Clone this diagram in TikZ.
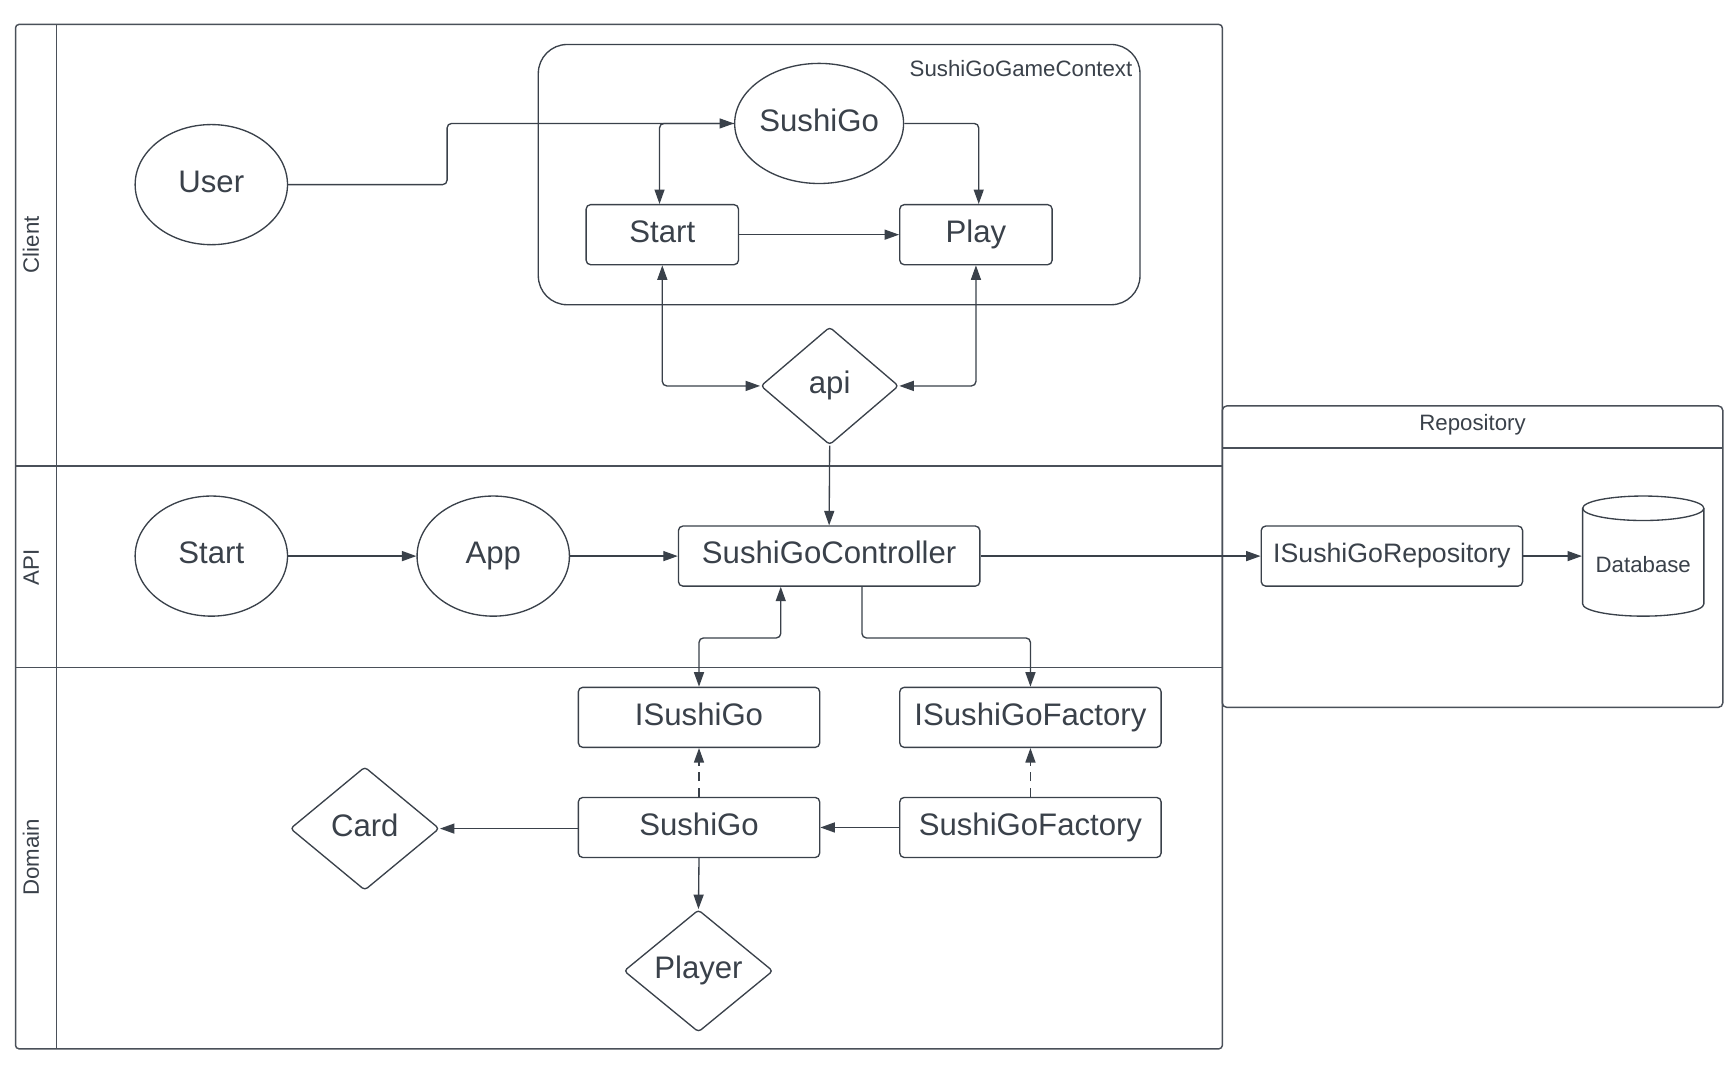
\documentclass[tikz,border=0pt]{standalone}
\usepackage{fontspec}
\setmainfont{Liberation Sans}
\usetikzlibrary{arrows.meta,shapes.geometric}
\definecolor{ink}{HTML}{3A414A}
\definecolor{frame}{HTML}{4A5059}
\begin{document}
\begin{tikzpicture}[x=1pt,y=-1pt,
  line width=1.2pt, draw=ink, text=ink,
  big/.style={font=\fontsize{28}{32}\selectfont, text height=21pt, text depth=7pt},
  mid/.style={font=\fontsize{24}{28}\selectfont, text height=18pt, text depth=6pt},
  small/.style={font=\fontsize{20}{24}\selectfont, text height=15pt, text depth=5pt},
  rbox/.style={draw=ink, rounded corners=4, inner sep=0pt, big},
  oval/.style={draw=ink, ellipse, inner sep=0pt, minimum width=137, minimum height=108, big},
  dmd/.style={draw=ink, diamond, inner sep=0pt, rounded corners=3, big},
  conn/.style={draw=ink, line width=1.2pt, rounded corners=4, -{Triangle[length=13pt,width=9pt]}},
  both/.style={conn, {Triangle[length=13pt,width=9pt]}-{Triangle[length=13pt,width=9pt]}},
  dashconn/.style={conn, dash pattern=on 8pt off 6pt}
]
\useasboundingbox (0,0) rectangle (1560,960);
\fill[white] (0,0) rectangle (1560,960);

% swimlane pool
\draw[frame, line width=1.3pt, rounded corners=3] (14,22) rectangle (1099,943);
\draw[frame, line width=1.3pt] (51,22) -- (51,943);
\draw[frame, line width=1.3pt] (14,419) -- (1099,419);
\draw[frame, line width=1.3pt] (14,600) -- (1099,600);
\node[small, rotate=90] (lclient) at (30,220) {Client};
\node[small, rotate=90] (lapi) at (30,510) {API};
\node[small, rotate=90] (ldomain) at (30,771) {Domain};

% repository container
\draw[frame, line width=1.3pt, rounded corners=4] (1099,365) rectangle (1549,636);
\draw[frame, line width=1.3pt] (1099,403) -- (1549,403);
\node[small] (lrepo) at (1324,382) {Repository};

% context
\draw[ink, line width=1.2pt, rounded corners=26] (484,40) rectangle (1025,274);
\node[small] (lctx) at (918,64) {SushiGoGameContext};

% client nodes
\node[oval] (user) at (190,166) {User};
\node[oval, minimum width=143] (sushigo) at (736.5,111) {SushiGo};
\node[rbox, minimum width=137, minimum height=54] (start) at (595.5,211) {Start};
\node[rbox, minimum width=137, minimum height=54] (play) at (877.5,211) {Play};
\node[dmd, minimum width=124, minimum height=106] (api) at (746,347) {api};

% API nodes
\node[oval] (start2) at (190,500) {Start};
\node[oval] (app) at (443.5,500) {App};
\node[rbox, minimum width=271, minimum height=54] (ctrl) at (745.5,500) {SushiGoController};
\node[rbox, mid, minimum width=235, minimum height=54] (repo) at (1251.5,500) {ISushiGoRepository};

% database cylinder
\node[minimum width=109, minimum height=108, inner sep=0pt] (db) at (1477.5,500) {};
\draw[ink] (1423,457) -- (1423,543) arc[start angle=180, end angle=360, x radius=54.5, y radius=-11] -- (1532,457);
\draw[ink] (1477.5,457) ellipse[x radius=54.5, y radius=11];
\node[small] (ldb) at (1477.5,510) {Database};

% domain nodes
\node[rbox, minimum width=217, minimum height=54] (isushigo) at (628.5,645) {ISushiGo};
\node[rbox, minimum width=235, minimum height=54] (ifactory) at (926.5,645) {ISushiGoFactory};
\node[rbox, minimum width=217, minimum height=54] (sushigo2) at (628.5,744) {SushiGo};
\node[rbox, minimum width=235, minimum height=54] (sfactory) at (926.5,744) {SushiGoFactory};
\node[dmd, minimum width=134, minimum height=111] (card) at (328,745) {Card};
\node[dmd, minimum width=134, minimum height=110] (player) at (628,873) {Player};

% client connectors
\draw[conn] (user.east) -- (402,166) -- (402,111) -- (sushigo.west);
\draw[conn] (sushigo.west) -| ([xshift=-2.5]start.north);
\draw[conn] (sushigo.east) -| ([xshift=2.5]play.north);
\draw[conn] (start.east) -- (play.west);
\draw[both] (start.south) |- (api.west);
\draw[both] (play.south) |- (api.east);
\draw[conn] (api.south) -- (ctrl.north);

% API connectors
\draw[conn] (start2.east) -- (app.west);
\draw[conn] (app.east) -- (ctrl.west);
\draw[conn] (ctrl.east) -- (repo.west);
\draw[conn] (repo.east) -- (db.west);
\draw[both] ([xshift=-43.5]ctrl.south) -- ++(0,46) -| (isushigo.north);
\draw[conn] ([xshift=29.5]ctrl.south) -- ++(0,46) -| (ifactory.north);

% domain connectors
\draw[dashconn] (sushigo2.north) -- (isushigo.south);
\draw[dashconn] (sfactory.north) -- (ifactory.south);
\draw[conn] (sfactory.west) -- (sushigo2.east);
\draw[conn] (sushigo2.west |- card.east) -- (card.east);
\draw[conn] (sushigo2.south) -- (player.north);
\end{tikzpicture}
\end{document}
